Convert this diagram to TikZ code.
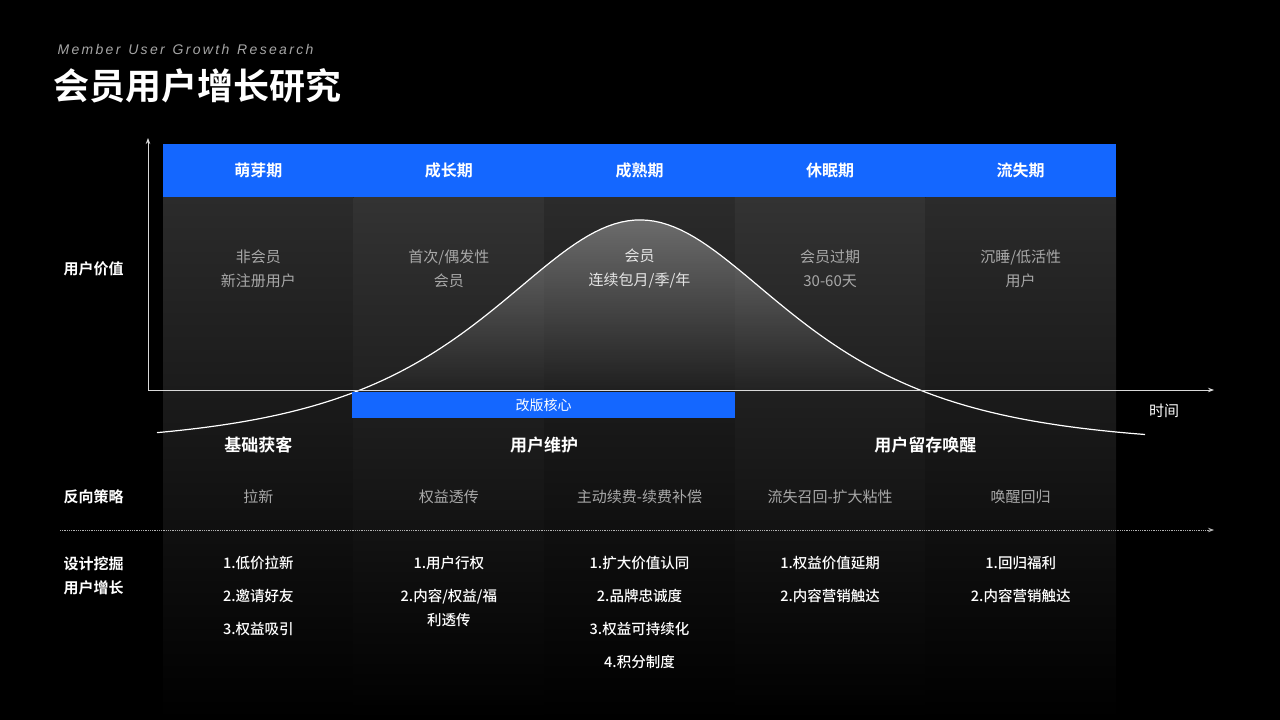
\documentclass[tikz,border=0pt]{standalone}
\usepackage{fontspec}
\newfontfamily\cjk{Noto Sans CJK SC}
\newfontfamily\cjkb{Noto Sans CJK SC Bold}
\newfontfamily\cjkm{Noto Sans CJK SC Medium}
\setmainfont{Liberation Sans}
\usetikzlibrary{arrows.meta,shadings}
\definecolor{hblue}{HTML}{1467FF}
\definecolor{gtext}{HTML}{A8A8A8}
\tikzset{
 hdr/.style={font=\cjkb\fontsize{16}{18}\selectfont,text=white},
 ctext/.style={font=\cjk\fontsize{15}{24}\selectfont,text=gtext,align=center},
 lab/.style={font=\cjkb\fontsize{15}{24}\selectfont,text=white,align=left,anchor=west},
 grp/.style={font=\cjkb\fontsize{17}{20}\selectfont,text=white},
 item/.style={font=\cjkm\fontsize{14.5}{24}\selectfont,text=white,align=center,anchor=north},
}
\begin{document}
\begin{tikzpicture}[x=1pt,y=-1pt]
\fill[black] (0,0) rectangle (1280,720);
\useasboundingbox (0,0) rectangle (1280,720);
% columns
\foreach \i/\c in {0/2B2B2B,1/333333,2/2B2B2B,3/333333,4/2B2B2B}{
  \definecolor{tc}{HTML}{\c}
  \shade[top color=tc,bottom color=black] (163+\i*190.6,197) rectangle (163+\i*190.6+190.6,720);
}
% curve fill
\begin{scope}
\clip plot[domain=157:1145,samples=150] (\x,{437-225*(2/(exp((\x-640)/134)+exp(-(\x-640)/134))-0.035)}) -- (1145,390) -- (157,390) -- cycle;
\shade[top color=white!75!black,bottom color=white!15!black,opacity=0.45] (157,218) rectangle (1145,390);
\end{scope}
\draw[white,line width=1.2pt] plot[domain=157:1145,samples=150] (\x,{437-225*(2/(exp((\x-640)/134)+exp(-(\x-640)/134))-0.035)});
% header
\fill[hblue] (163,144) rectangle (1116,197);
\foreach \i/\t in {0/萌芽期,1/成长期,2/成熟期,3/休眠期,4/流失期}{
  \node[hdr] (h\i) at (258.3+\i*190.6,170.5) {\t};
}
% axes
\coordinate (o) at (148,390);
\coordinate (yt) at (148,138);
\coordinate (xt) at (1214,390);
\draw[white!85!black,line width=0.9pt,-{Stealth[length=6pt]}] (o)--(yt);
\draw[white!85!black,line width=0.9pt,-{Stealth[length=6pt]}] (o)--(xt);
\node[font=\cjk\fontsize{15}{18}\selectfont,text=white] (time) at (1164,411) {时间};
% title
\node[anchor=west,font=\itshape\fontsize{14}{16}\selectfont,text=white!65!black] (sub) at (54,49) {M\,e\,m\,b\,e\,r\ \ U\,s\,e\,r\ \ G\,r\,o\,w\,t\,h\ \ R\,e\,s\,e\,a\,r\,c\,h};
\node[anchor=west,font=\cjkb\fontsize{36}{40}\selectfont,text=white] (title) at (50,86) {会员用户增长研究};
% content
\node[ctext] (c0) at (258.3,269) {非会员\\新注册用户};
\node[ctext] (c1) at (448.9,269) {首次/偶发性\\会员};
\node[ctext,text=white!90!black] (c2) at (639.5,269) {会员\\连续包月/季/年};
\node[ctext] (c3) at (830.1,269) {会员过期\\30-60天};
\node[ctext] (c4) at (1020.7,269) {沉睡/低活性\\用户};
\node[lab] (l1) at (60,269) {用户价值};
% core bar
\fill[hblue] (352,392) rectangle (735,418);
\node[font=\cjk\fontsize{14}{16}\selectfont,text=white] (core) at (543.5,405) {改版核心};
% groups
\node[grp] (g1) at (258.3,445) {基础获客};
\node[grp] (g2) at (544.2,445) {用户维护};
\node[grp] (g3) at (925.4,445) {用户留存唤醒};
% strategy
\node[lab] (l2) at (60,497) {反向策略};
\foreach \i/\t in {0/拉新,1/权益透传,2/主动续费-续费补偿,3/流失召回-扩大粘性,4/唤醒回归}{
  \node[ctext] (s\i) at (258.3+\i*190.6,497) {\t};
}
\coordinate (d0) at (60,530);
\coordinate (d1) at (1214,530);
\draw[white!70!black,densely dotted,line width=0.8pt,-{Stealth[length=6pt]}] (d0)--(d1);
\node[lab] (l3) at (60,576) {设计挖掘\\用户增长};
\node[item] (i0) at (258.3,553) {1.低价拉新\\[9pt]2.邀请好友\\[9pt]3.权益吸引};
\node[item] (i1) at (448.9,553) {1.用户行权\\[9pt]2.内容/权益/福\\利透传};
\node[item] (i2) at (639.5,553) {1.扩大价值认同\\[9pt]2.品牌忠诚度\\[9pt]3.权益可持续化\\[9pt]4.积分制度};
\node[item] (i3) at (830.1,553) {1.权益价值延期\\[9pt]2.内容营销触达};
\node[item] (i4) at (1020.7,553) {1.回归福利\\[9pt]2.内容营销触达};
\end{tikzpicture}
\end{document}
